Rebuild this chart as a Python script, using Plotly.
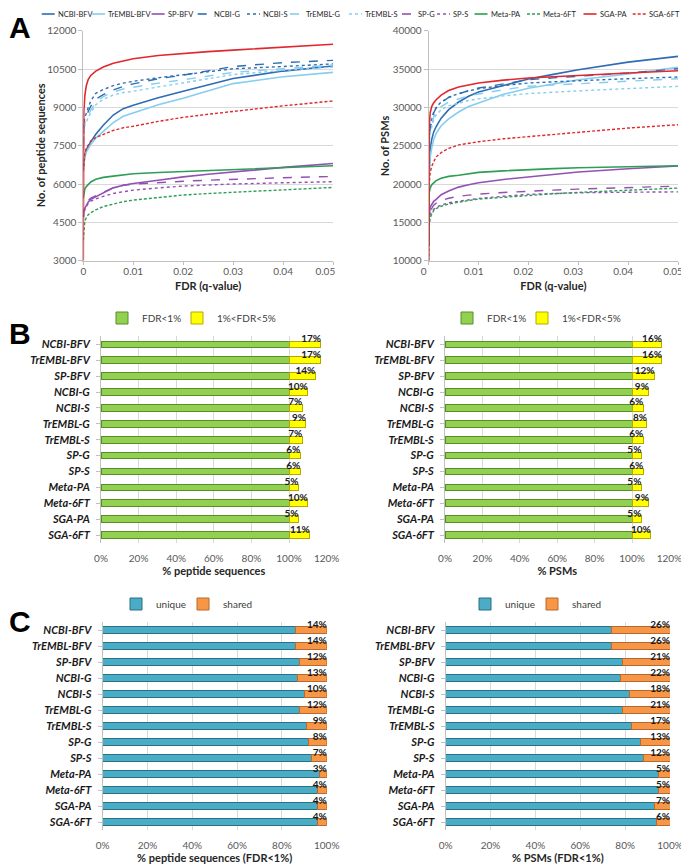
import plotly.graph_objects as go

# The page body has an 8px margin, so the figure is drawn 8px in from the corner.
OFF = 8
W, H = 689 - OFF, 867 - OFF

# ---------------- Panel A data ----------------
fdr = [0, 0.0001, 0.0003, 0.0006, 0.001, 0.0015, 0.0025, 0.004, 0.006, 0.008,
       0.01, 0.015, 0.02, 0.025, 0.03, 0.04, 0.05]
fdr_ticks = [0, 0.01, 0.02, 0.03, 0.04, 0.05]
fdr_ticktext = ["0", "0.01", "0.02", "0.03", "0.04", "0.05"]
pep_ticks = [3000, 4500, 6000, 7500, 9000, 10500, 12000]
psm_ticks = [10000, 15000, 20000, 25000, 30000, 35000, 40000]

series_names = ["NCBI-BFV", "TrEMBL-BFV", "SP-BFV", "NCBI-G", "NCBI-S", "TrEMBL-G",
                "TrEMBL-S", "SP-G", "SP-S", "Meta-PA", "Meta-6FT", "SGA-PA", "SGA-6FT"]

pep_ncbi_bfv = [6600, 6900, 7150, 7350, 7500, 7650, 7950, 8300, 8700, 8950, 9080, 9380, 9630, 9880, 10130, 10420, 10620]
pep_trembl_bfv = [6600, 6850, 7050, 7250, 7400, 7550, 7800, 8050, 8400, 8650, 8780, 9100, 9360, 9650, 9930, 10200, 10370]
pep_sp_bfv = [4700, 4950, 5050, 5150, 5300, 5400, 5500, 5650, 5850, 5950, 6020, 6150, 6280, 6380, 6480, 6650, 6806]
pep_ncbi_g = [7400, 8250, 8450, 8650, 8850, 9050, 9320, 9500, 9680, 9820, 9920, 10120, 10260, 10430, 10600, 10750, 10840]
pep_ncbi_s = [7500, 8350, 8600, 8800, 9000, 9250, 9550, 9700, 9850, 9950, 10020, 10160, 10280, 10400, 10510, 10600, 10700]
pep_trembl_g = [7400, 8200, 8400, 8550, 8700, 8900, 9200, 9420, 9600, 9720, 9790, 9950, 10080, 10230, 10370, 10510, 10660]
pep_trembl_s = [7300, 8100, 8300, 8450, 8600, 8800, 9100, 9320, 9480, 9580, 9630, 9800, 9950, 10120, 10280, 10450, 10580]
pep_sp_g = [4700, 4950, 5050, 5200, 5350, 5450, 5550, 5680, 5850, 5950, 6000, 6060, 6110, 6150, 6190, 6245, 6297]
pep_sp_s = [4700, 4900, 5000, 5100, 5250, 5330, 5420, 5520, 5630, 5700, 5760, 5850, 5920, 5960, 6000, 6050, 6090]
pep_meta_pa = [5450, 5650, 5800, 5900, 6000, 6080, 6190, 6260, 6310, 6360, 6400, 6450, 6490, 6520, 6560, 6640, 6715]
pep_meta_6ft = [3800, 4300, 4550, 4680, 4800, 4880, 4990, 5120, 5230, 5310, 5370, 5480, 5570, 5630, 5680, 5790, 5866]
pep_sga_pa = [3000, 8800, 9450, 9850, 10100, 10250, 10420, 10580, 10730, 10830, 10900, 11030, 11110, 11180, 11240, 11360, 11470]
pep_sga_6ft = [6500, 6850, 7150, 7400, 7550, 7680, 7820, 7950, 8100, 8200, 8260, 8450, 8610, 8730, 8840, 9060, 9250]

psm_ncbi_bfv = [20000, 22800, 24500, 25800, 26800, 27500, 28600, 29700, 30700, 31450, 32000, 32850, 33700, 34300, 34900, 35900, 36650]
psm_trembl_bfv = [20000, 22000, 23500, 24700, 25800, 26600, 27600, 28500, 29400, 30100, 30565, 31700, 32500, 33050, 33610, 34349, 35219]
psm_sp_bfv = [12000, 15800, 17000, 17300, 17750, 18000, 18600, 19100, 19600, 19900, 20168, 20600, 20951, 21250, 21560, 21995, 22343]
psm_ncbi_g = [22000, 26000, 27300, 28300, 29300, 29900, 30600, 31300, 31800, 32200, 32520, 33100, 33610, 33850, 34045, 34480, 35045]
psm_ncbi_s = [22000, 26500, 27600, 28500, 29400, 30000, 30700, 31300, 31800, 32150, 32435, 32850, 33175, 33330, 33479, 33740, 33958]
psm_trembl_g = [21000, 25500, 26800, 27800, 28800, 29400, 30100, 30700, 31150, 31500, 31750, 32300, 32750, 32900, 33044, 33392, 33740]
psm_trembl_s = [21000, 25300, 26600, 27500, 28400, 29000, 29700, 30200, 30600, 30900, 31100, 31500, 31800, 32000, 32150, 32450, 32740]
psm_sp_g = [12000, 15500, 16500, 16900, 17250, 17500, 17850, 18150, 18400, 18550, 18689, 18900, 19081, 19210, 19342, 19559, 19733]
psm_sp_s = [12000, 15200, 16000, 16400, 16700, 16950, 17250, 17550, 17750, 17950, 18124, 18400, 18646, 18760, 18863, 18930, 18980]
psm_meta_pa = [14000, 18900, 19500, 19900, 20150, 20450, 20750, 21000, 21150, 21350, 21517, 21720, 21908, 22010, 22125, 22256, 22387]
psm_meta_6ft = [10500, 14500, 15600, 16100, 16550, 16800, 17100, 17400, 17650, 17850, 18037, 18300, 18559, 18730, 18907, 19211, 19472]
psm_sga_pa = [10000, 27500, 29300, 30100, 30600, 31000, 31600, 32200, 32650, 32950, 33175, 33550, 33830, 34000, 34130, 34480, 34784]
psm_sga_6ft = [10000, 20000, 21500, 22300, 22900, 23550, 24100, 24650, 25100, 25350, 25519, 25900, 26171, 26450, 26780, 27302, 27737]

# ---------------- Panels B and C data ----------------
categories = ["NCBI-BFV", "TrEMBL-BFV", "SP-BFV", "NCBI-G", "NCBI-S", "TrEMBL-G", "TrEMBL-S",
              "SP-G", "SP-S", "Meta-PA", "Meta-6FT", "SGA-PA", "SGA-6FT"]
pep_fdr1 = [100, 100, 100, 100, 100, 100, 100, 100, 100, 100, 100, 100, 100]
pep_fdr1_5 = [17, 17, 14, 10, 7, 9, 7, 6, 6, 5, 10, 5, 11]
psm_fdr1 = [100, 100, 100, 100, 100, 100, 100, 100, 100, 100, 100, 100, 100]
psm_fdr1_5 = [16, 16, 12, 9, 6, 8, 6, 5, 6, 5, 9, 5, 10]
pep_unique = [86, 86, 88, 87, 90, 88, 91, 92, 93, 97, 96, 96, 96]
pep_shared = [14, 14, 12, 13, 10, 12, 9, 8, 7, 3, 4, 4, 4]
psm_unique = [74, 74, 79, 78, 82, 79, 83, 87, 88, 95, 95, 93, 94]
psm_shared = [26, 26, 21, 22, 18, 21, 17, 13, 12, 5, 5, 7, 6]
pct_ticks_b = [0, 20, 40, 60, 80, 100, 120]
pct_ticks_c = [0, 20, 40, 60, 80, 100]

# ---------------- styles ----------------
c_ncbi, c_trembl, c_sp, c_meta, c_sga = "#2e6db4", "#86cdee", "#9350b5", "#2e9e55", "#e0282e"
colors = [c_ncbi, c_trembl, c_sp, c_ncbi, c_ncbi, c_trembl, c_trembl, c_sp, c_sp,
          c_meta, c_meta, c_sga, c_sga]
dashes = ["solid", "solid", "solid", "dash", "dot", "dash", "dot", "dash", "dot",
          "solid", "3px,2px", "solid", "3px,2px"]
legend_a_x = [41.7, 92, 151.6, 197.7, 247, 290, 349, 402, 437, 474.5, 527, 583.5, 632.7]

FONT = "Lato"
axis_font = dict(family=FONT, size=10, color="#595959")
cat_font = dict(family=FONT, size=11, color="#1a1a1a", weight="bold", style="italic")
title_font = dict(family=FONT, size=11, color="#262626", weight="bold")
lab_font = dict(family=FONT, size=10, color="#1a1a1a", weight="bold")
grid = "#d9d9d9"
axl = "#bfbfbf"

pep_series = [pep_ncbi_bfv, pep_trembl_bfv, pep_sp_bfv, pep_ncbi_g, pep_ncbi_s, pep_trembl_g,
              pep_trembl_s, pep_sp_g, pep_sp_s, pep_meta_pa, pep_meta_6ft, pep_sga_pa, pep_sga_6ft]
psm_series = [psm_ncbi_bfv, psm_trembl_bfv, psm_sp_bfv, psm_ncbi_g, psm_ncbi_s, psm_trembl_g,
              psm_trembl_s, psm_sp_g, psm_sp_s, psm_meta_pa, psm_meta_6ft, psm_sga_pa, psm_sga_6ft]


def fx(p):  # page pixel x -> paper fraction
    return (p - OFF) / W


def fy(p):  # page pixel y -> paper fraction
    return 1 - (p - OFF) / H


fig = go.Figure()
for i, name in enumerate(series_names):
    lw = 1.6 if dashes[i] == "solid" else 1.4
    ln = dict(color=colors[i], width=lw, dash=dashes[i])
    fig.add_trace(go.Scatter(x=fdr, y=pep_series[i], mode="lines", name=name, line=ln,
                             xaxis="x", yaxis="y", showlegend=False))
    fig.add_trace(go.Scatter(x=fdr, y=psm_series[i], mode="lines", name=name, line=ln,
                             xaxis="x2", yaxis="y2", showlegend=False))

green, green_d = "#92d050", "#5b8c2a"
yellow, yellow_d = "#ffff00", "#b5a800"
blue, blue_d = "#4bacc6", "#2a6f85"
orange, orange_d = "#f79646", "#b8692b"
BW = 0.42


def add_stack(xa, ya, v1, v2, n1, n2, c1, c2, lg1, lg2, labels, lab_x):
    fig.add_trace(go.Bar(y=categories, x=v1, orientation="h", name=n1, width=BW,
                         marker=dict(color=c1[0], line=dict(color=c1[1], width=1)),
                         xaxis=xa, yaxis=ya, legend=lg1))
    fig.add_trace(go.Bar(y=categories, x=v2, orientation="h", name=n2, width=BW,
                         marker=dict(color=c2[0], line=dict(color=c2[1], width=1)),
                         xaxis=xa, yaxis=ya, legend=lg2))
    fig.add_trace(go.Scatter(y=categories, x=lab_x, text=[f"{v}%" for v in labels], mode="text",
                             textposition="top left", textfont=lab_font, showlegend=False,
                             xaxis=xa, yaxis=ya, cliponaxis=False))


add_stack("x3", "y3", pep_fdr1, pep_fdr1_5, "FDR<1%", "1%<FDR<5%", (green, green_d), (yellow, yellow_d),
          "legend2", "legend3", pep_fdr1_5, [a + b for a, b in zip(pep_fdr1, pep_fdr1_5)])
add_stack("x4", "y4", psm_fdr1, psm_fdr1_5, "FDR<1%", "1%<FDR<5%", (green, green_d), (yellow, yellow_d),
          "legend4", "legend5", psm_fdr1_5, [a + b for a, b in zip(psm_fdr1, psm_fdr1_5)])
add_stack("x5", "y5", pep_unique, pep_shared, "unique", "shared", (blue, blue_d), (orange, orange_d),
          "legend6", "legend7", pep_shared, [a + b for a, b in zip(pep_unique, pep_shared)])
add_stack("x6", "y6", psm_unique, psm_shared, "unique", "shared", (blue, blue_d), (orange, orange_d),
          "legend8", "legend9", psm_shared, [a + b for a, b in zip(psm_unique, psm_shared)])


def dx(a, b):
    return [fx(a), fx(b)]


def dy(top, bot):
    return [fy(bot), fy(top)]


def line_x(dom, rng, tv, tt, title, anchor, pad_last, shift):
    return dict(domain=dom, range=rng, tickvals=tv,
                ticktext=tt[:-1] + [tt[-1] + "\u00a0" * pad_last],
                showgrid=False, showline=True, ticklabelshift=shift,
                linecolor=axl, ticks="outside", tickcolor=axl, ticklen=3, tickfont=axis_font,
                zeroline=False, anchor=anchor, ticklabelstandoff=-2,
                title=dict(text=title, font=title_font, standoff=6))


def line_y(dom, rng, tv, anchor):
    return dict(domain=dom, range=rng, tickvals=tv, ticktext=[str(t) for t in tv],
                showgrid=True, gridcolor=grid, gridwidth=1.2,
                showline=True, linecolor=axl, ticks="outside", tickcolor=axl, ticklen=4,
                tickfont=axis_font, zeroline=False, anchor=anchor)


def bar_x(dom, rng, tv, title, anchor):
    return dict(domain=dom, range=rng, tickvals=tv, ticktext=[f"{t}%" for t in tv], showgrid=True,
                gridcolor=grid, gridwidth=1, showline=False, zeroline=False, ticks="",
                tickfont=axis_font, anchor=anchor, ticklabelstandoff=8,
                title=dict(text=title, font=title_font, standoff=4))


def bar_y(dom, anchor):
    return dict(domain=dom, range=[12.5, -0.5], autorange=False, showline=True, linecolor=axl,
                ticks="outside", tickcolor=axl, ticklen=4, tickfont=cat_font, anchor=anchor,
                showgrid=False, ticklabelstandoff=4, type="category")


yA = dy(30.7, 260.7)
yB = dy(336.4, 543)
yC = dy(622.3, 830.3)

layout = dict(
    width=W, height=H, margin=dict(l=0, r=0, t=0, b=0, autoexpand=False),
    paper_bgcolor="white", plot_bgcolor="white", barmode="stack", showlegend=True,
    xaxis=line_x(dx(83.3, 333), [0, 0.05], fdr_ticks, fdr_ticktext, "FDR (q-value)", "y", 6, 0),
    yaxis=line_y(yA, [3000, 12000], pep_ticks, "x"),
    xaxis2=line_x(dx(428.7, 678), [0, 0.05], fdr_ticks, fdr_ticktext, "FDR (q-value)", "y2", 0, -5),
    yaxis2=line_y(yA, [10000, 40000], psm_ticks, "x2"),
    xaxis3=bar_x(dx(101, 326.6), [0, 120], pct_ticks_b, "% peptide sequences", "y3"),
    yaxis3=bar_y(yB, "x3"),
    xaxis4=bar_x(dx(445, 669.4), [0, 120], pct_ticks_b, "% PSMs", "y4"),
    yaxis4=bar_y(yB, "x4"),
    xaxis5=bar_x(dx(102.7, 326.7), [0, 100], pct_ticks_c, "% peptide sequences (FDR<1%)", "y5"),
    yaxis5=bar_y(yC, "x5"),
    xaxis6=bar_x(dx(445.7, 670), [0, 100], pct_ticks_c, "% PSMs (FDR<1%)", "y6"),
    yaxis6=bar_y(yC, "x6"),
)

leg_common = dict(orientation="h", xanchor="left", yanchor="middle", bgcolor="rgba(0,0,0,0)",
                  font=dict(family=FONT, size=10, color="#404040"), itemwidth=30)
# one legend per entry so each swatch sits where the reference puts it
for key, sx, sy in [("legend2", 121, 318), ("legend3", 196, 318),
                    ("legend4", 466, 318), ("legend5", 541, 318),
                    ("legend6", 135, 604), ("legend7", 202, 604),
                    ("legend8", 484, 604), ("legend9", 551, 604)]:
    layout[key] = dict(leg_common, x=fx(sx - 19), y=fy(sy))

shapes = []
annotations = []
for i, name in enumerate(series_names):
    x0 = legend_a_x[i]
    shapes.append(dict(type="line", xref="paper", yref="paper", x0=fx(x0), x1=fx(x0 + 13),
                       y0=fy(14), y1=fy(14),
                       line=dict(color=colors[i], width=1.6, dash=dashes[i])))
    annotations.append(dict(text=name, xref="paper", yref="paper", x=fx(x0 + 14), y=fy(14),
                            xanchor="left", yanchor="middle", showarrow=False,
                            font=dict(family=FONT, size=7.5, color="#262626")))

# y-axis titles of panel A (right edge of the rotated text box)
for ttl, px in [("No. of peptide sequences", 49), ("No. of PSMs", 393)]:
    annotations.append(dict(text=ttl, xref="paper", yref="paper", x=fx(px), y=fy(145.7),
                            xanchor="right", yanchor="middle", textangle=-90, showarrow=False,
                            font=title_font))

for letter, (lx, ly) in zip(["A", "B", "C"], [(20, 28), (20, 334), (20, 621)]):
    annotations.append(dict(text=f"<b>{letter}</b>", xref="paper", yref="paper", x=fx(lx), y=fy(ly),
                            xanchor="center", yanchor="middle", showarrow=False,
                            font=dict(family="Liberation Sans", size=30, color="#000000")))

layout["shapes"] = shapes
layout["annotations"] = annotations
fig.update_layout(**layout)
fig.write_html("out.html")
